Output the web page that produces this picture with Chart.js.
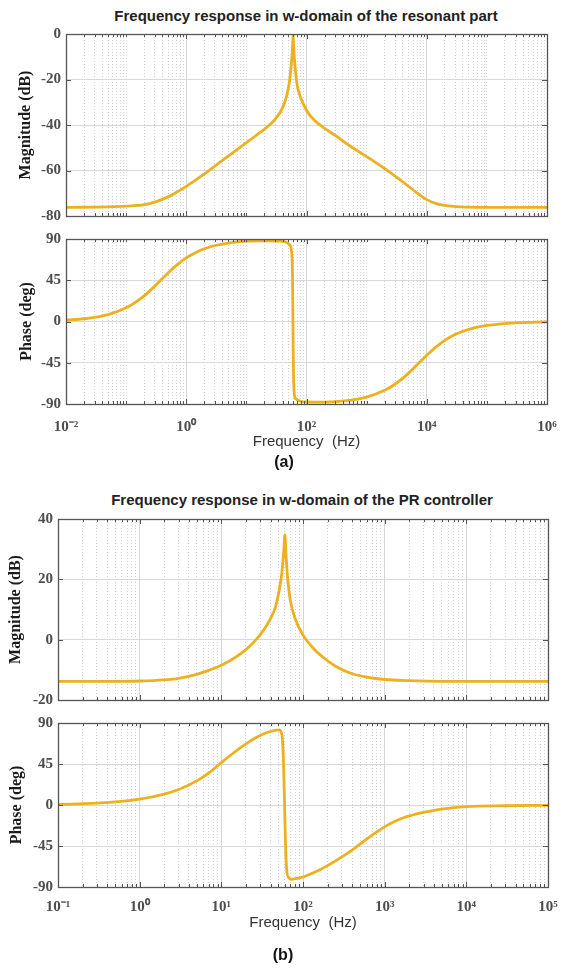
<!DOCTYPE html>
<html>
<head>
<meta charset="utf-8">
<script src="https://cdn.jsdelivr.net/npm/chart.js@4.4.0/dist/chart.umd.min.js"></script>
<style>
  body { margin: 0; background: #fff; width: 573px; height: 969px; position: relative; overflow: hidden; }
  .box { position: absolute; left: 0; width: 573px; }
  .title { position: absolute; font: bold 15px "Liberation Sans", Arial, sans-serif; color: #222; white-space: nowrap; transform: translate(-50%, -50%); }
  .cap { position: absolute; font: bold 16px "Liberation Sans", Arial, sans-serif; color: #111; transform: translate(-50%, -50%); }
</style>
</head>
<body>
<div class="title" style="left:306px;top:15px">Frequency response in w-domain of the resonant part</div>
<div class="box" style="top:20px;height:210px"><canvas id="magA"></canvas></div>
<div class="box" style="top:225px;height:250px"><canvas id="phaseA"></canvas></div>
<div class="cap" style="left:284px;top:462px">(a)</div>

<div class="title" style="left:302px;top:499px">Frequency response in w-domain of the PR controller</div>
<div class="box" style="top:505px;height:209px"><canvas id="magB"></canvas></div>
<div class="box" style="top:709px;height:250px"><canvas id="phaseB"></canvas></div>
<div class="cap" style="left:283px;top:955px">(b)</div>

<script>
// (a) resonant part
const freqMagA = [0.01, 0.05, 0.1, 0.2, 0.3, 0.5, 0.7, 1, 2, 4, 7, 10, 15, 20, 30, 40, 47, 52, 56, 58.5, 60, 61, 63, 66, 70, 80, 100, 130, 200, 300, 500, 1000, 2000, 4000, 7000, 10000, 15000, 25000, 50000, 100000, 1000000];
const dbMagA = [-76.2, -76.0, -75.7, -75.0, -73.9, -71.6, -69.5, -67, -61.5, -55.5, -50.8, -47.8, -44.3, -41.8, -37.5, -32.5, -27, -21, -13, -6, 0, -5, -11, -17, -22.5, -28, -33.5, -37.5, -41.5, -44.6, -48.8, -53.9, -59.2, -65, -70, -72.8, -74.7, -75.7, -76.1, -76.2, -76.2];

const freqPhaseA = [0.01, 0.02, 0.05, 0.1, 0.2, 0.3, 0.4, 0.5, 0.7, 1, 1.5, 2, 3, 5, 10, 20, 35, 45, 52, 56, 58.5, 59.5, 60.5, 63, 68, 80, 100, 200, 470, 1000, 2000, 3000, 5000, 7500, 10000, 15000, 20000, 30000, 50000, 100000, 300000, 1000000];
const degPhaseA = [1.5, 3, 7.6, 14.9, 28, 38.6, 46.8, 53, 61.8, 69.4, 75.9, 79.4, 82.9, 85.6, 87.6, 88, 87.8, 86.8, 84, 78, 50, 0, -50, -80, -85, -87, -87.8, -88, -86.4, -82.4, -75.1, -68.2, -56.3, -45, -36.9, -26.6, -20.6, -14, -8.5, -4.3, -1.4, -0.4];

const xTickValsA = [0.01, 1, 100, 10000, 1000000];
const xTickLabelsA = ['10⁻²', '10⁰', '10²', '10⁴', '10⁶'];

// (b) PR controller
const freqMagB = [0.1, 0.5, 1, 2, 3, 5, 7, 10, 15, 20, 26, 33, 40, 46, 51, 55, 58, 60, 62, 65, 70, 80, 100, 130, 170, 250, 400, 600, 1000, 2000, 5000, 100000];
const dbMagB = [-13.8, -13.8, -13.7, -13.3, -12.8, -11.5, -10.2, -8.5, -5.8, -3.3, -0.3, 3.2, 7, 10.8, 16.3, 22, 29, 34.8, 28, 20, 13, 7, 1.5, -2.5, -5.5, -8.8, -11.3, -12.4, -13.2, -13.6, -13.8, -13.8];

const freqPhaseB = [0.1, 0.3, 1, 2, 3, 5, 7, 10, 15, 20, 26, 35, 45, 51, 54, 56, 58, 59.5, 61, 63, 66, 72, 85, 100, 150, 209, 300, 427, 600, 800, 1000, 1300, 1700, 2200, 2700, 5000, 10000, 30000, 100000];
const degPhaseB = [0.7, 2, 6.5, 12, 17, 26.5, 35, 46.5, 59, 67, 73.5, 79, 82, 82.5, 80, 72, 40, 0, -40, -70, -79, -81.5, -80.5, -79, -72.5, -65.5, -57, -47.5, -37.5, -29.5, -24, -18.5, -14, -11, -9, -4.5, -1.8, -0.8, -0.4];

const xTickValsB = [0.1, 1, 10, 100, 1000, 10000, 100000];
const xTickLabelsB = ['10⁻¹', '10⁰', '10¹', '10²', '10³', '10⁴', '10⁵'];

const lineColor = '#EDB120';
const serif = '"Liberation Serif", "Times New Roman", serif';
const sans = '"Liberation Sans", Arial, sans-serif';

function labelIndex(vals, v) {
  return vals.findIndex(t => Math.abs(Math.log10(t) - Math.log10(v)) < 1e-6);
}

// box around the plot area plus small inward ticks, like matlab
const frame = {
  id: 'frame',
  afterDraw(chart) {
    const { ctx, chartArea: a, scales: { x, y } } = chart;
    ctx.save();
    ctx.strokeStyle = '#555';
    ctx.lineWidth = 1;
    ctx.beginPath();
    x.ticks.forEach(t => {
      const px = Math.round(x.getPixelForValue(t.value)) + 0.5;
      const len = t.major ? 5 : 3;
      ctx.moveTo(px, a.bottom); ctx.lineTo(px, a.bottom - len);
      ctx.moveTo(px, a.top); ctx.lineTo(px, a.top + len);
    });
    y.ticks.forEach(t => {
      const py = Math.round(y.getPixelForValue(t.value)) + 0.5;
      ctx.moveTo(a.left, py); ctx.lineTo(a.left + 5, py);
      ctx.moveTo(a.right, py); ctx.lineTo(a.right - 5, py);
    });
    ctx.stroke();
    ctx.lineWidth = 1.3;
    ctx.strokeRect(Math.round(a.left) + 0.5, Math.round(a.top) + 0.5, Math.round(a.width), Math.round(a.height));
    ctx.restore();
  }
};

function makeChart(id, freq, vals, o) {
  const isMajor = v => labelIndex(o.tickVals, v) >= 0;
  new Chart(document.getElementById(id), {
    type: 'line',
    data: {
      datasets: [{
        data: freq.map((f, i) => ({ x: f, y: vals[i] })),
        borderColor: lineColor,
        borderWidth: 2.8,
        pointRadius: 0,
        cubicInterpolationMode: 'monotone',
        fill: false
      }]
    },
    options: {
      responsive: true,
      maintainAspectRatio: false,
      animation: false,
      events: [],
      layout: { autoPadding: false, padding: { top: o.padTop, right: o.padRight, bottom: o.padBottom, left: 0 } },
      plugins: { legend: { display: false }, tooltip: { enabled: false } },
      scales: {
        x: {
          type: 'logarithmic',
          min: o.xMin,
          max: o.xMax,
          afterBuildTicks: s => {
            const t = [];
            for (let e = Math.round(Math.log10(o.xMin)); e <= Math.round(Math.log10(o.xMax)); e++) {
              for (let m = 1; m <= 9; m++) {
                const v = m * Math.pow(10, e);
                if (v > o.xMax * 1.0001) break;
                t.push({ value: v, major: isMajor(v) });
              }
            }
            s.ticks = t;
          },
          afterFit: s => { s.height = o.xHeight; },
          ticks: {
            display: o.showX,
            autoSkip: false,
            maxRotation: 0,
            padding: o.tickPad || 0,
            color: '#4d4d4d',
            font: { family: serif, size: 15, weight: 'bold' },
            callback: v => {
              const i = labelIndex(o.tickVals, v);
              return i >= 0 ? o.tickLabels[i] : '';
            }
          },
          grid: {
            drawTicks: false,
            color: c => (c.tick && c.tick.major) ? '#d6d6d6' : '#d2d2d2',
            lineWidth: 1
          },
          border: {
            display: false,
            dash: c => (c.tick && !c.tick.major) ? [1, 2] : []
          },
          title: {
            display: o.showX,
            text: 'Frequency  (Hz)',
            color: '#333',
            font: { family: sans, size: 15 },
            padding: { top: 0, bottom: o.titlePad || 0 }
          }
        },
        y: {
          min: o.yMin,
          max: o.yMax,
          afterFit: s => { s.width = o.yWidth; },
          ticks: {
            stepSize: o.yStep,
            padding: 5,
            color: '#4d4d4d',
            font: { family: serif, size: 15, weight: 'bold' }
          },
          grid: { drawTicks: false, color: '#d9d9d9' },
          border: { display: false },
          title: {
            display: true,
            text: o.yTitle,
            color: '#1a1a1a',
            font: { family: serif, size: 16, weight: 'bold' },
            padding: { top: o.yTitlePad, bottom: 0 }
          }
        }
      }
    },
    plugins: [frame]
  });
}

makeChart('magA', freqMagA, dbMagA, {
  xMin: 0.01, xMax: 1000000, tickVals: xTickValsA, tickLabels: xTickLabelsA,
  yMin: -80, yMax: 0, yStep: 20, yTitle: 'Magnitude (dB)', yTitlePad: 16,
  yWidth: 66, xHeight: 0, showX: false, padTop: 13, padRight: 26, padBottom: 8
});
makeChart('phaseA', freqPhaseA, degPhaseA, {
  xMin: 0.01, xMax: 1000000, tickVals: xTickValsA, tickLabels: xTickLabelsA,
  yMin: -90, yMax: 90, yStep: 45, yTitle: 'Phase (deg)', yTitlePad: 17,
  yWidth: 66, xHeight: 50, showX: true, tickPad: 14, titlePad: 3, padTop: 11, padRight: 26, padBottom: 21
});
makeChart('magB', freqMagB, dbMagB, {
  xMin: 0.1, xMax: 100000, tickVals: xTickValsB, tickLabels: xTickLabelsB,
  yMin: -20, yMax: 40, yStep: 20, yTitle: 'Magnitude (dB)', yTitlePad: 6,
  yWidth: 58, xHeight: 0, showX: false, padTop: 13, padRight: 25, padBottom: 8
});
makeChart('phaseB', freqPhaseB, degPhaseB, {
  xMin: 0.1, xMax: 100000, tickVals: xTickValsB, tickLabels: xTickLabelsB,
  yMin: -90, yMax: 90, yStep: 45, yTitle: 'Phase (deg)', yTitlePad: 7,
  yWidth: 58, xHeight: 50, showX: true, tickPad: 11, titlePad: 5, padTop: 11, padRight: 25, padBottom: 22
});
</script>
</body>
</html>
